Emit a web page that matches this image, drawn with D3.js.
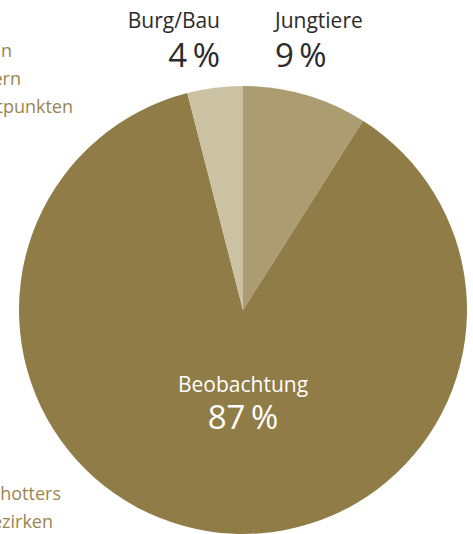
<!DOCTYPE html>
<html>
<head>
<meta charset="utf-8">
<script src="https://cdn.jsdelivr.net/npm/d3@7"></script>
<style>
  body { margin: 0; background: #fff; }
  svg { display: block; font-family: "Open Sans", sans-serif; }
</style>
</head>
<body>
<svg></svg>
<script>
// pie data, clockwise from 12 o'clock
var categories = ["Jungtiere", "Beobachtung", "Burg/Bau"];
var values = [9, 87, 4];
var colors = ["#ab9c72", "#8f7c46", "#cbc2a3"];

// word endings of the neighbouring panel that peek in at the left edge
var sideTopLines = ["in", "ern", "tpunkten"];
var sideBottomLines = ["hotters", "ezirken"];

var width = 473,
    height = 534,
    cx = 243,
    cy = 310,
    radius = 224;

var svg = d3.select("svg")
  .attr("width", width)
  .attr("height", height);

var pie = d3.pie()
  .sort(null)
  .value(function(d) { return d.value; });

var arc = d3.arc()
  .innerRadius(0)
  .outerRadius(radius);

var data = categories.map(function(c, i) {
  return {name: c, value: values[i], color: colors[i]};
});

var g = svg.append("g")
  .attr("transform", "translate(" + cx + "," + cy + ")");

g.selectAll("path")
  .data(pie(data))
  .enter().append("path")
  .attr("d", arc)
  .attr("fill", function(d) { return d.data.color; });

// labels for the two small slices sit above the pie
var topLabels = [
  {i: 2, x: 220, anchor: "end"},
  {i: 0, x: 275, anchor: "start"}
];

topLabels.forEach(function(t) {
  svg.append("text")
    .attr("x", t.x)
    .attr("y", 28)
    .attr("text-anchor", t.anchor)
    .attr("font-size", 21)
    .attr("fill", "#2b2b2b")
    .text(categories[t.i]);
  svg.append("text")
    .attr("x", t.x)
    .attr("y", 67)
    .attr("text-anchor", t.anchor)
    .attr("font-size", 33)
    .attr("fill", "#2b2b2b")
    .text(values[t.i] + "\u2009%");
});

// big slice label inside
svg.append("text")
  .attr("x", cx)
  .attr("y", 392)
  .attr("text-anchor", "middle")
  .attr("font-size", 21)
  .attr("fill", "#fff")
  .text(categories[1]);

svg.append("text")
  .attr("x", cx)
  .attr("y", 429)
  .attr("text-anchor", "middle")
  .attr("font-size", 33)
  .attr("fill", "#fff")
  .text(values[1] + "\u2009%");

var sideColor = "#9a8650";
var topEnds = [12, 21, 73];
var bottomEnds = [61, 53];

svg.append("g").selectAll("text")
  .data(sideTopLines)
  .enter().append("text")
  .attr("x", function(d, i) { return topEnds[i]; })
  .attr("y", function(d, i) { return 57 + i * 28; })
  .attr("text-anchor", "end")
  .attr("font-size", 18)
  .attr("fill", sideColor)
  .text(function(d) { return d; });

svg.append("g").selectAll("text")
  .data(sideBottomLines)
  .enter().append("text")
  .attr("x", function(d, i) { return bottomEnds[i]; })
  .attr("y", function(d, i) { return 500 + i * 28; })
  .attr("text-anchor", "end")
  .attr("font-size", 18)
  .attr("fill", sideColor)
  .text(function(d) { return d; });
</script>
</body>
</html>
